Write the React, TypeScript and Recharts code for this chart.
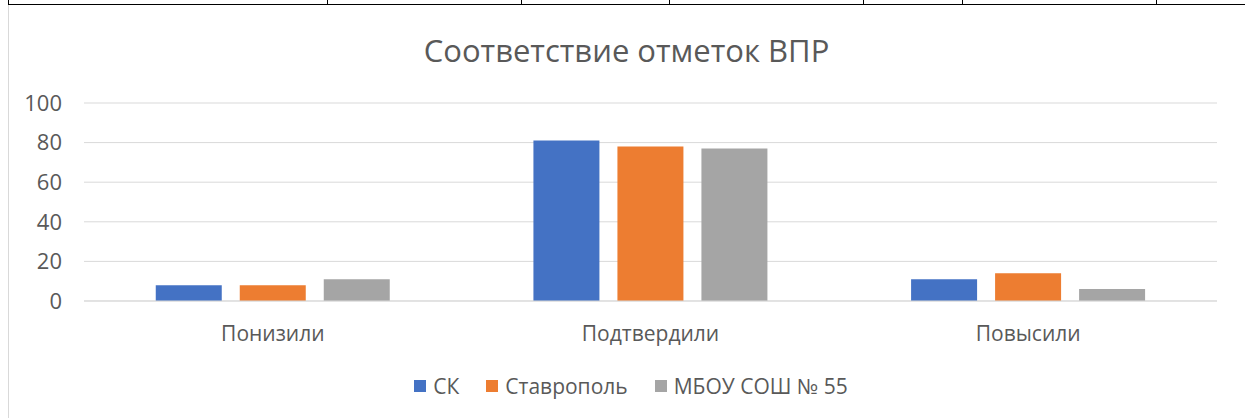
import { BarChart, Bar, XAxis, YAxis, CartesianGrid } from "recharts";

const categories = ["Понизили", "Подтвердили", "Повысили"];
const skValues = [8, 81, 11];
const stavropolValues = [8, 78, 14];
const schoolValues = [11, 77, 6];
const yTicks = [0, 20, 40, 60, 80, 100];

const seriesNames = ["СК", "Ставрополь", "МБОУ СОШ № 55"];
const seriesColors = ["#4472c4", "#ed7d31", "#a5a5a5"];
const seriesKeys = ["sk", "stavropol", "school"];

// table borders showing above the chart in the source document
const tableRuleXs = [8, 327, 521, 669, 863, 962, 1156];

const data = categories.map((name, i) => ({
  name,
  sk: skValues[i],
  stavropol: stavropolValues[i],
  school: schoolValues[i],
}));

const FONT = "'Open Sans', 'Noto Sans', sans-serif";
const GREY_TEXT = "#595959";

export default function App() {
  return (
    <div style={{ position: "fixed", left: 0, top: 0, width: 1245, height: 418, background: "#fff", overflow: "hidden" }}>
      <div style={{ position: "absolute", left: 8, top: 4, width: 1237, height: 1, background: "#000" }} />
      {tableRuleXs.map((x) => (
        <div key={x} style={{ position: "absolute", left: x, top: 0, width: 1, height: 5, background: "#000" }} />
      ))}
      <div style={{ position: "absolute", left: 8, top: 5, width: 1, height: 413, background: "#d9d9d9" }} />
      <div
        style={{
          position: "absolute",
          left: 0,
          width: 1245,
          boxSizing: "border-box",
          paddingLeft: 8,
          top: 29,
          textAlign: "center",
          fontFamily: FONT,
          fontSize: 31,
          color: GREY_TEXT,
        }}
      >
        Соответствие отметок ВПР
      </div>
      <BarChart
        width={1245}
        height={418}
        data={data}
        margin={{ top: 103, right: 28, bottom: 87, left: 24 }}
        barGap={18}
        barCategoryGap="19%"
      >
        <CartesianGrid vertical={false} stroke="#d9d9d9" />
        <XAxis
          dataKey="name"
          height={30}
          axisLine={{ stroke: "#d9d9d9" }}
          tickLine={false}
          tickMargin={19}
          tick={{ fill: GREY_TEXT, fontSize: 21, fontFamily: FONT }}
        />
        <YAxis
          width={60}
          domain={[0, 100]}
          ticks={yTicks}
          axisLine={false}
          tickLine={false}
          tickMargin={16}
          tick={{ fill: GREY_TEXT, fontSize: 22, fontFamily: FONT }}
        />
        {seriesKeys.map((k, i) => (
          <Bar key={k} dataKey={k} name={seriesNames[i]} fill={seriesColors[i]} isAnimationActive={false} />
        ))}
      </BarChart>
      <div
        style={{
          position: "absolute",
          left: 0,
          top: 372,
          width: 1245,
          boxSizing: "border-box",
          paddingLeft: 17,
          display: "flex",
          justifyContent: "center",
          gap: 27,
          fontFamily: FONT,
          fontSize: 21,
          color: GREY_TEXT,
        }}
      >
        {seriesNames.map((name, i) => (
          <div key={name} style={{ display: "flex", alignItems: "center", gap: 7 }}>
            <span style={{ width: 12, height: 12, background: seriesColors[i], display: "inline-block" }} />
            <span>{name}</span>
          </div>
        ))}
      </div>
    </div>
  );
}
